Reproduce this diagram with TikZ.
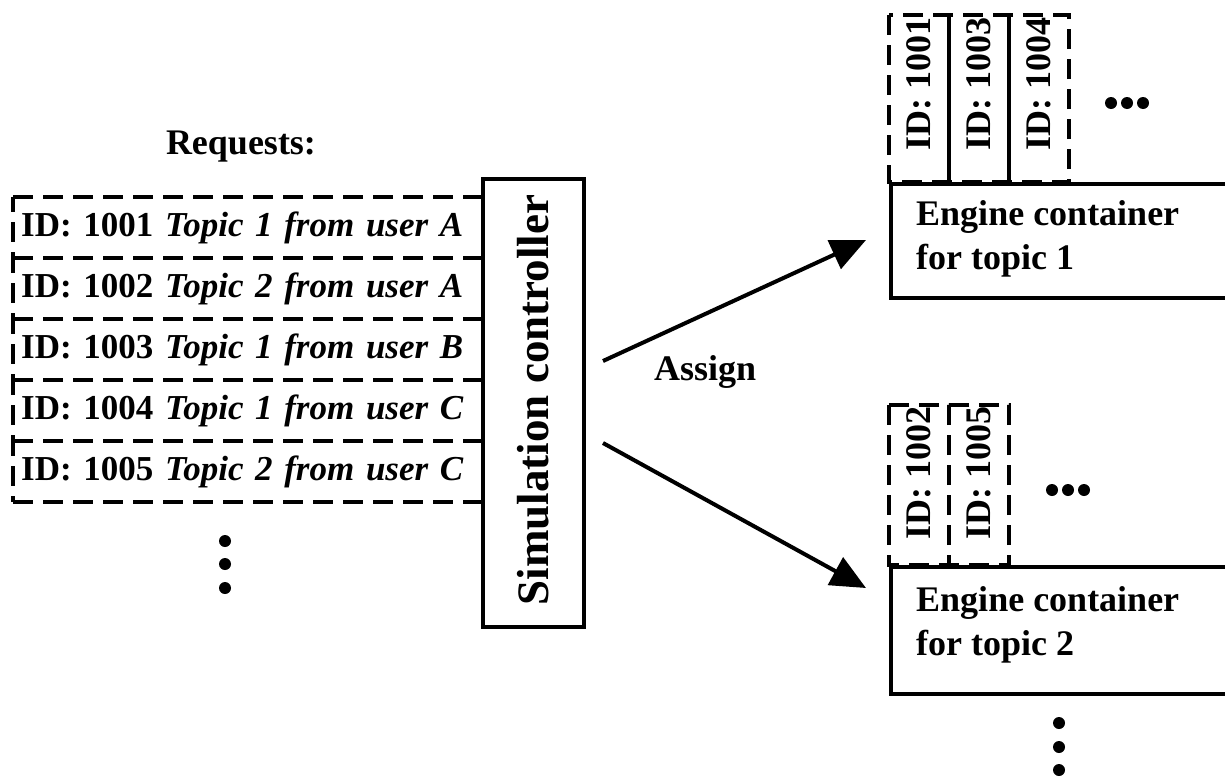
\documentclass[tikz,border=0pt]{standalone}
\usepackage{fontspec}
\setmainfont{Liberation Serif}
\usetikzlibrary{arrows.meta}

\begin{document}
\begin{tikzpicture}[x=1pt,y=-1pt,
  lbl/.style={font=\fontsize{36}{44}\selectfont\bfseries, inner sep=0pt},
  dashbox/.style={draw, line width=4pt, dash pattern=on 20pt off 10pt},
  dashline/.style={line width=4pt, dash pattern=on 20pt off 10pt},
  reqrow/.style={anchor=north west, minimum height=61pt,
    text width=453pt, inner xsep=8pt, inner ysep=0pt, align=left,
    font=\fontsize{35}{42}\selectfont\bfseries},
  tagbox/.style={dashbox, rotate=90, minimum width=167pt, minimum height=60pt, inner sep=0pt},
  solidbox/.style={draw, line width=4pt, inner sep=0pt},
  assign/.style={line width=4pt, -{Triangle[length=35pt,width=31pt]}},
  dot/.style={fill=black}
]
\useasboundingbox (0,0) rectangle (1225,780);
\clip (0,0) rectangle (1225,780);

% request queue
\node[lbl] (reqtitle) at (241,147) {Requests:};
\node[reqrow] (r1) at (13,197) {\mbox{ID: 1001 \textit{Topic 1 from user A}}};
\node[reqrow] (r2) at (13,258) {\mbox{ID: 1002 \textit{Topic 2 from user A}}};
\node[reqrow] (r3) at (13,319) {\mbox{ID: 1003 \textit{Topic 1 from user B}}};
\node[reqrow] (r4) at (13,380) {\mbox{ID: 1004 \textit{Topic 1 from user C}}};
\node[reqrow] (r5) at (13,441) {\mbox{ID: 1005 \textit{Topic 2 from user C}}};
% dashed frames of the queue entries
\draw[dashline] (r1.north west) -- (r1.north east);
\foreach \r in {r1,r2,r3,r4,r5} {
  \draw[dashline] (\r.south west) -- (\r.south east);
  \draw[dashline, dash phase=5pt] (\r.north west) -- (\r.south west);
}
\foreach \y in {541,564,588} \fill[dot] (225,\y) circle (6pt);

% controller
\node[solidbox, fill=white, minimum width=101pt, minimum height=448pt] (ctrl) at (533,403) {};
\node[rotate=90, inner sep=0pt, font=\fontsize{45}{50}\selectfont\bfseries] (ctrltext) at (533,400) {Simulation controller};

% engine containers
\node[solidbox, anchor=north west, minimum width=400pt, minimum height=114pt] (eng1) at (889,182) {};
\node[lbl, anchor=west, align=left] (eng1text) at (916,239) {Engine container\\for topic 1};
\node[solidbox, anchor=north west, minimum width=400pt, minimum height=127pt] (eng2) at (889,565) {};
\node[lbl, anchor=west, align=left] (eng2text) at (916,625) {Engine container\\for topic 2};

% requests assigned to container 1
\node[tagbox] (t11) at (919,98.5) {};
\node[tagbox] (t12) at (979,98.5) {};
\node[tagbox] (t13) at (1039,98.5) {};
\node[lbl, rotate=90] (t11text) at (919,84) {ID: 1001};
\node[lbl, rotate=90] (t12text) at (979,84) {ID: 1003};
\node[lbl, rotate=90] (t13text) at (1039,84) {ID: 1004};
\foreach \x in {1111,1127,1143} \fill[dot] (\x,103) circle (6pt);

% requests assigned to container 2
\node[tagbox, minimum width=160pt] (t21) at (919,485) {};
\node[tagbox, minimum width=160pt] (t22) at (979,485) {};
\node[lbl, rotate=90] (t21text) at (919,473) {ID: 1002};
\node[lbl, rotate=90] (t22text) at (979,473) {ID: 1005};
\foreach \x in {1052,1068,1084} \fill[dot] (\x,490) circle (6pt);
\foreach \y in {723,747,770} \fill[dot] (1059,\y) circle (6pt);

% assignment arrows
\coordinate (a1s) at (603,361);
\coordinate (a1e) at (866,240);
\coordinate (a2s) at (603,443);
\coordinate (a2e) at (866,588);
\draw[assign] (a1s) -- (a1e);
\draw[assign] (a2s) -- (a2e);
\node[lbl, anchor=base west] (assignlbl) at (654,380) {Assign};
\end{tikzpicture}
\end{document}
